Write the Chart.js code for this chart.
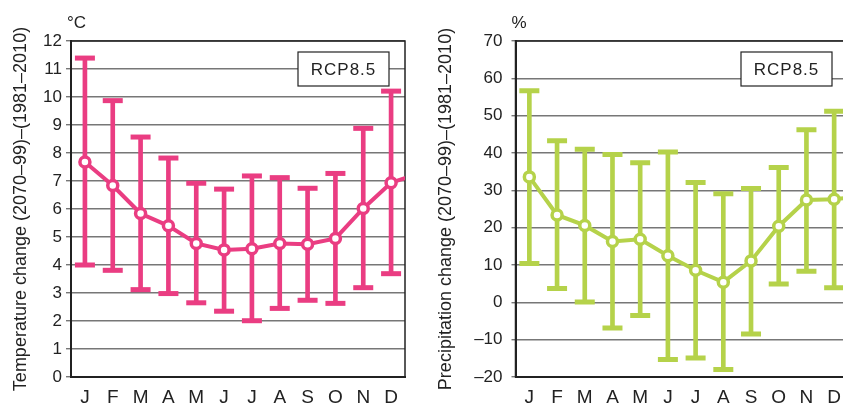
<!DOCTYPE html>
<html>
<head>
<meta charset="utf-8">
<script src="https://cdn.jsdelivr.net/npm/chart.js@4.4.1/dist/chart.umd.min.js"></script>
<style>
html, body { margin: 0; padding: 0; background: #fff; overflow: hidden; width: 843px; height: 406px; }
#left { position: absolute; left: 0; top: 0; width: 420px; height: 406px; }
#right { position: absolute; left: 423px; top: 0; width: 440px; height: 406px; }
</style>
</head>
<body>
<div id="left"><canvas id="temp-chart" width="420" height="406"></canvas></div>
<div id="right"><canvas id="prec-chart" width="440" height="406"></canvas></div>
<script>
var months = ['J', 'F', 'M', 'A', 'M', 'J', 'J', 'A', 'S', 'O', 'N', 'D'];

// ensemble mean, last value is the line running on past D (cut by the frame)
var tempMean = [7.68, 6.84, 5.84, 5.40, 4.77, 4.54, 4.58, 4.77, 4.74, 4.95, 6.02, 6.94, 7.26];
var tempLow  = [4.00, 3.81, 3.12, 2.98, 2.65, 2.35, 2.01, 2.45, 2.74, 2.63, 3.19, 3.69];
var tempHigh = [11.39, 9.87, 8.57, 7.82, 6.92, 6.71, 7.18, 7.12, 6.74, 7.27, 8.88, 10.21];
var tempTicks = [0, 1, 2, 3, 4, 5, 6, 7, 8, 9, 10, 11, 12];

var precMean = [33.6, 23.4, 20.6, 16.3, 16.9, 12.5, 8.6, 5.4, 11.1, 20.4, 27.4, 27.6, 28.4];
var precLow  = [10.4, 3.7, 0.1, -6.9, -3.5, -15.3, -14.9, -18.0, -8.5, 4.9, 8.3, 3.9];
var precHigh = [56.7, 43.3, 41.0, 39.6, 37.4, 40.3, 32.1, 29.1, 30.5, 36.1, 46.2, 51.2];
var precTicks = [-20, -10, 0, 10, 20, 30, 40, 50, 60, 70];

var tickFont = { family: 'Liberation Sans', size: 17 };

var framePlugin = {
    id: 'frame',
    beforeDatasetsDraw: function(chart, args, opts) {
        var a = chart.chartArea;
        var ctx = chart.ctx;
        ctx.save();
        ctx.strokeStyle = '#222';
        ctx.lineWidth = 1.5;
        ctx.strokeRect(a.left, a.top, a.right - a.left, a.bottom - a.top);

        // RCP box
        var bw = 91, bh = 34;
        var bx = a.right - 16 - bw, by = a.top + 11;
        ctx.fillStyle = '#fff';
        ctx.fillRect(bx, by, bw, bh);
        ctx.lineWidth = 1.2;
        ctx.strokeRect(bx, by, bw, bh);
        ctx.fillStyle = '#222';
        ctx.font = '17px "Liberation Sans"';
        ctx.letterSpacing = '1px';
        ctx.textAlign = 'center';
        ctx.textBaseline = 'middle';
        ctx.fillText(opts.label, bx + bw / 2, by + bh / 2 + 1);

        // unit
        ctx.letterSpacing = '0px';
        ctx.textAlign = 'left';
        ctx.font = '17px "Liberation Sans"';
        ctx.fillText(opts.unit, a.left - 4, a.top - 18);
        ctx.restore();
    }
};

function makeChart(id, mean, low, high, ticks, color, yTitle, unit, area) {
    var ctx = document.getElementById(id).getContext('2d');
    var meanPts = mean.map(function(v, i) { return { x: i + 1, y: v }; });
    var barPts = low.map(function(v, i) { return { x: i + 1, y: [v, high[i]] }; });
    var capPts = low.map(function(v, i) { return { x: i + 1, y: v }; })
        .concat(high.map(function(v, i) { return { x: i + 1, y: v }; }));

    return new Chart(ctx, {
        type: 'bar',
        data: {
            datasets: [{
                type: 'line',
                data: meanPts,
                borderColor: color,
                borderWidth: 4,
                pointRadius: 5,
                pointBorderWidth: 3.5,
                pointBackgroundColor: '#fff',
                pointBorderColor: color,
                order: 1
            }, {
                type: 'line',
                data: capPts,
                showLine: false,
                pointStyle: 'line',
                pointRadius: 10,
                pointBorderWidth: 5,
                pointBorderColor: color,
                order: 2
            }, {
                type: 'bar',
                data: barPts,
                backgroundColor: color,
                barThickness: 4,
                order: 3
            }]
        },
        options: {
            responsive: false,
            animation: false,
            layout: { padding: { left: 0, right: area.right, top: 41, bottom: 0 } },
            plugins: {
                legend: { display: false },
                tooltip: { enabled: false },
                frame: { label: 'RCP8.5', unit: unit }
            },
            scales: {
                x: {
                    type: 'linear',
                    offset: false,
                    min: 0.5,
                    max: 12.5,
                    afterBuildTicks: function(s) {
                        s.ticks = months.map(function(m, i) { return { value: i + 1 }; });
                    },
                    afterFit: function(s) { s.height = 29; },
                    grid: { display: false, drawTicks: false, offset: false },
                    border: { color: '#222', width: 2 },
                    ticks: {
                        autoSkip: false,
                        maxRotation: 0,
                        padding: 9,
                        color: '#222',
                        font: { family: 'Liberation Sans', size: 19 },
                        callback: function(v) { return months[v - 1]; }
                    }
                },
                y: {
                    min: ticks[0],
                    max: ticks[ticks.length - 1],
                    afterBuildTicks: function(s) {
                        s.ticks = ticks.map(function(t) { return { value: t }; });
                    },
                    afterFit: function(s) { s.width = area.left; },
                    grid: { color: '#777', lineWidth: 1.4, tickLength: area.tick },
                    border: { color: '#222', width: 2 },
                    ticks: {
                        padding: area.pad,
                        color: '#222',
                        font: tickFont,
                        callback: function(v) { return String(v).replace('-', '\u2013'); }
                    },
                    title: {
                        display: true,
                        text: yTitle,
                        color: '#222',
                        font: { family: '"Liberation Sans Narrow", "Liberation Sans"', size: 18 },
                        padding: { top: area.titlePad, bottom: 0 }
                    }
                }
            }
        },
        plugins: [framePlugin]
    });
}

makeChart('temp-chart', tempMean, tempLow, tempHigh, tempTicks, '#ea3d82',
    'Temperature change (2070\u201399)\u2013(1981\u20132010)', '\u00b0C',
    { left: 71, right: 13, tick: 5, pad: 4, titlePad: 10 });

makeChart('prec-chart', precMean, precLow, precHigh, precTicks, '#b5d24a',
    'Precipitation change (2070\u201399)\u2013(1981\u20132010)', '%',
    { left: 92.5, right: 11, tick: 4, pad: 9, titlePad: 12 });
</script>
</body>
</html>
